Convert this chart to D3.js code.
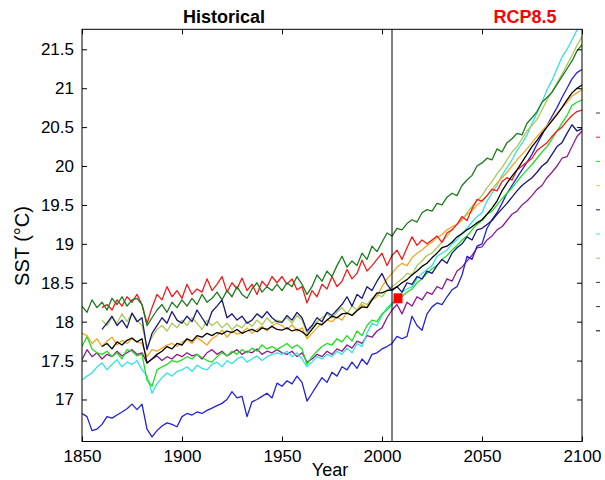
<!DOCTYPE html>
<html>
<head>
<meta charset="utf-8">
<script src="https://cdn.jsdelivr.net/npm/d3@7"></script>
<style>
  body { margin: 0; background: #fff; }
  svg { display: block; font-family: "Liberation Sans", Arial, sans-serif; }
</style>
</head>
<body>
<div id="chart"></div>
<script>
// sample years (every 2.5 yr)
const years = [
  1850, 1852.5, 1855, 1857.5, 1860, 1862.5, 1865, 1867.5, 1870, 1872.5,
  1875, 1877.5, 1880, 1882.5, 1885, 1887.5, 1890, 1892.5, 1895, 1897.5,
  1900, 1902.5, 1905, 1907.5, 1910, 1912.5, 1915, 1917.5, 1920, 1922.5,
  1925, 1927.5, 1930, 1932.5, 1935, 1937.5, 1940, 1942.5, 1945, 1947.5,
  1950, 1952.5, 1955, 1957.5, 1960, 1962.5, 1965, 1967.5, 1970, 1972.5,
  1975, 1977.5, 1980, 1982.5, 1985, 1987.5, 1990, 1992.5, 1995, 1997.5,
  2000, 2002.5, 2005, 2007.5, 2010, 2012.5, 2015, 2017.5, 2020, 2022.5,
  2025, 2027.5, 2030, 2032.5, 2035, 2037.5, 2040, 2042.5, 2045, 2047.5,
  2050, 2052.5, 2055, 2057.5, 2060, 2062.5, 2065, 2067.5, 2070, 2072.5,
  2075, 2077.5, 2080, 2082.5, 2085, 2087.5, 2090, 2092.5, 2095, 2097.5,
  2100
];

const darkGreen = [
  18.20, 18.12, 18.28, 18.18, 18.25, 18.15, 18.30, 18.22, 18.32, 18.20,
  18.28, 18.30, 18.22, 17.95, 18.05, 18.15, 18.22, 18.12, 18.25, 18.18,
  18.28, 18.20, 18.30, 18.22, 18.35, 18.25, 18.30, 18.38, 18.28, 18.40,
  18.32, 18.45, 18.35, 18.30, 18.42, 18.50, 18.38, 18.45, 18.40, 18.48,
  18.40, 18.50, 18.45, 18.58, 18.48, 18.35, 18.45, 18.60, 18.52, 18.65,
  18.58, 18.72, 18.84, 18.70, 18.78, 18.72, 18.88, 18.80, 18.97, 18.90,
  19.02, 19.14, 19.10, 19.20, 19.18, 19.26, 19.31, 19.28, 19.40, 19.44,
  19.42, 19.52, 19.50, 19.60, 19.65, 19.62, 19.75, 19.82, 19.88, 20.00,
  20.04, 20.10, 20.08, 20.22, 20.18, 20.30, 20.35, 20.42, 20.40, 20.55,
  20.62, 20.70, 20.82, 20.88, 20.95, 21.05, 21.15, 21.25, 21.35, 21.48,
  21.56
];

const red = [
  null, null, null, null, 18.18, 18.22, 18.15, 18.28, 18.20, 18.32,
  18.25, 18.35, 18.22, 17.98, 18.18, 18.35, 18.28, 18.45, 18.32, 18.40,
  18.30, 18.48, 18.35, 18.42, 18.38, 18.55, 18.40, 18.48, 18.58, 18.38,
  18.50, 18.42, 18.56, 18.40, 18.48, 18.35, 18.52, 18.45, 18.58, 18.50,
  18.58, 18.48, 18.55, 18.41, 18.45, 18.24, 18.40, 18.32, 18.48, 18.42,
  18.58, 18.45, 18.52, 18.67, 18.55, 18.62, 18.79, 18.65, 18.72, 18.80,
  18.88, 18.72, 18.85, 18.92, 18.80, 18.95, 19.09, 18.98, 19.05, 19.00,
  19.05, 19.10, 19.02, 19.14, 19.18, 19.25, 19.35, 19.30, 19.45, 19.57,
  19.55, 19.62, 19.70, 19.68, 19.80, 19.85, 19.82, 19.95, 20.00, 20.05,
  20.10, 20.20, 20.25, 20.30, 20.38, 20.45, 20.50, 20.58, 20.65, 20.70,
  20.72
];

const black = [
  null, null, null, null, 17.68, 17.72, 17.65, 17.74, 17.70, 17.76,
  17.79, 17.74, 17.78, 17.47, 17.52, 17.58, 17.62, 17.68, 17.65, 17.72,
  17.70, 17.78, 17.75, 17.82, 17.80, 17.85, 17.82, 17.86, 17.84, 17.88,
  17.86, 17.90, 17.85, 17.88, 17.90, 17.87, 17.92, 17.90, 17.94, 17.90,
  17.89, 17.92, 17.88, 17.90, 17.87, 17.82, 17.90, 17.98, 17.96, 18.02,
  18.07, 18.05, 18.10, 18.11, 18.08, 18.14, 18.19, 18.18, 18.28, 18.37,
  18.37, 18.40, 18.41, 18.45, 18.50, 18.54, 18.60, 18.65, 18.71, 18.75,
  18.82, 18.88, 18.95, 18.97, 19.02, 19.09, 19.13, 19.18, 19.22, 19.27,
  19.31, 19.38, 19.46, 19.55, 19.68, 19.78, 19.87, 19.95, 20.05, 20.15,
  20.25, 20.33, 20.42, 20.50, 20.58, 20.66, 20.75, 20.85, 20.94, 21.00,
  21.04
];

const navy = [
  null, null, null, null, 17.90, 17.98, 18.07, 17.95, 18.02, 17.92,
  18.11, 18.00, 18.05, 17.64, 17.85, 17.95, 18.05, 17.98, 18.13, 18.02,
  17.98, 18.07, 18.00, 18.15, 18.05, 17.95, 18.13, 18.20, 18.28, 18.05,
  18.10, 18.02, 18.07, 17.98, 18.02, 18.10, 18.05, 18.13, 18.05, 18.00,
  17.99, 18.08, 18.02, 18.12, 18.05, 17.88, 17.95, 18.05, 18.00, 18.12,
  18.08, 18.15, 18.22, 18.32, 18.20, 18.35, 18.30, 18.45, 18.40, 18.52,
  18.62, 18.48, 18.40, 18.45, 18.38, 18.50, 18.48, 18.58, 18.55, 18.65,
  18.62, 18.72, 18.80, 18.75, 18.88, 18.95, 19.00, 19.09, 19.05, 19.18,
  19.20, 19.25, 19.30, 19.38, 19.45, 19.52, 19.60, 19.68, 19.75, 19.80,
  19.85, 19.92, 20.00, 20.05, 20.15, 20.25, 20.30, 20.42, 20.53, 20.45,
  20.48
];

const yellowGreen = [
  null, null, null, null, 18.02, 17.95, 18.05, 17.98, 18.10, 18.00,
  18.11, 18.02, 17.95, 17.68, 17.80, 17.90, 17.95, 17.88, 17.98, 17.92,
  18.02, 17.95, 18.05, 17.98, 17.90, 18.02, 17.95, 18.00, 17.92, 17.98,
  17.90, 17.96, 17.92, 18.00, 17.94, 18.02, 17.96, 18.05, 17.98, 18.02,
  18.00, 18.05, 17.98, 18.08, 18.02, 17.85, 17.92, 18.00, 18.05, 18.10,
  18.05, 18.12, 18.18, 18.10, 18.20, 18.15, 18.25, 18.22, 18.30, 18.35,
  18.32, 18.40, 18.45, 18.50, 18.55, 18.62, 18.60, 18.72, 18.78, 18.85,
  18.88, 18.95, 19.02, 19.10, 19.18, 19.25, 19.30, 19.40, 19.48, 19.55,
  19.62, 19.72, 19.80, 19.90, 19.98, 20.08, 20.18, 20.25, 20.35, 20.45,
  20.52, 20.60, 20.72, 20.85, 20.95, 21.07, 21.18, 21.30, 21.42, 21.55,
  21.66
];

const orange = [
  17.85, 17.82, 17.72, 17.78, 17.68, 17.75, 17.80, 17.70, 17.76, 17.72,
  17.78, 17.74, 17.72, 17.55, 17.64, 17.62, 17.66, 17.70, 17.72, 17.68,
  17.74, 17.77, 17.72, 17.80, 17.75, 17.70, 17.78, 17.82, 17.89, 17.80,
  17.88, 17.84, 17.86, 17.92, 17.85, 17.90, 17.94, 17.88, 17.95, 17.98,
  17.95, 17.90, 17.96, 17.88, 17.92, 17.78, 17.85, 17.92, 17.98, 18.02,
  18.00, 18.06, 18.02, 18.12, 18.08, 18.15, 18.22, 18.18, 18.28, 18.32,
  18.45, 18.55, 18.62, 18.70, 18.75, 18.72, 18.82, 18.88, 18.92, 18.98,
  19.02, 19.08, 19.12, 19.18, 19.22, 19.25, 19.32, 19.38, 19.42, 19.50,
  19.55, 19.62, 19.70, 19.78, 19.85, 19.92, 20.00, 20.08, 20.15, 20.22,
  20.30, 20.38, 20.45, 20.52, 20.60, 20.68, 20.75, 20.82, 20.90, 20.94,
  20.98
];

const green = [
  17.68, 17.81, 17.65, 17.60, 17.58, 17.62, 17.55, 17.60, 17.52, 17.64,
  17.62, 17.56, 17.58, 17.25, 17.17, 17.38, 17.42, 17.45, 17.50, 17.48,
  17.51, 17.55, 17.52, 17.58, 17.54, 17.50, 17.48, 17.55, 17.60, 17.56,
  17.62, 17.58, 17.64, 17.60, 17.66, 17.62, 17.70, 17.65, 17.68, 17.64,
  17.68, 17.72, 17.66, 17.70, 17.65, 17.45, 17.55, 17.62, 17.68, 17.72,
  17.70, 17.78, 17.74, 17.82, 17.75, 17.88, 17.82, 17.95, 18.02, 18.00,
  18.10, 18.15, 18.22, 18.28, 18.32, 18.38, 18.42, 18.50, 18.55, 18.62,
  18.68, 18.72, 18.80, 18.85, 18.92, 18.98, 19.05, 19.10, 19.18, 19.25,
  19.30, 19.38, 19.42, 19.50, 19.58, 19.65, 19.72, 19.80, 19.88, 19.95,
  20.02, 20.10, 20.18, 20.25, 20.35, 20.45, 20.55, 20.65, 20.78, 20.82,
  20.85
];

const purple = [
  17.51, 17.64, 17.55, 17.60, 17.52, 17.58, 17.55, 17.62, 17.56, 17.60,
  17.64, 17.58, 17.60, 17.47, 17.52, 17.56, 17.50, 17.55, 17.52, 17.58,
  17.55, 17.60, 17.56, 17.58, 17.52, 17.60, 17.64, 17.58, 17.62, 17.56,
  17.60, 17.64, 17.58, 17.62, 17.60, 17.65, 17.58, 17.62, 17.60, 17.64,
  17.60, 17.58, 17.62, 17.55, 17.60, 17.48, 17.52, 17.58, 17.55, 17.62,
  17.58, 17.65, 17.62, 17.70, 17.66, 17.75, 17.72, 17.82, 17.80, 17.88,
  17.92, 18.05, 18.15, 18.22, 18.10, 18.25, 18.20, 18.32, 18.28, 18.38,
  18.35, 18.45, 18.42, 18.55, 18.52, 18.65, 18.70, 18.78, 18.85, 18.95,
  18.96, 19.05, 19.10, 19.18, 19.22, 19.30, 19.38, 19.42, 19.50, 19.55,
  19.62, 19.70, 19.75, 19.85, 19.92, 20.00, 20.10, 20.12, 20.25, 20.38,
  20.45
];

const cyan = [
  17.25, 17.30, 17.34, 17.42, 17.47, 17.38, 17.45, 17.51, 17.42, 17.48,
  17.45, 17.50, 17.38, 17.30, 17.08, 17.20, 17.28, 17.34, 17.30, 17.36,
  17.38, 17.42, 17.36, 17.44, 17.40, 17.38, 17.45, 17.48, 17.42, 17.50,
  17.46, 17.52, 17.55, 17.48, 17.52, 17.56, 17.50, 17.55, 17.58, 17.60,
  17.58, 17.62, 17.55, 17.60, 17.52, 17.42, 17.48, 17.55, 17.52, 17.58,
  17.55, 17.62, 17.58, 17.66, 17.60, 17.72, 17.68, 17.85, 17.98, 17.95,
  18.08, 18.18, 18.24, 18.30, 18.38, 18.42, 18.45, 18.55, 18.62, 18.67,
  18.72, 18.84, 18.88, 18.92, 19.00, 19.05, 19.14, 19.20, 19.28, 19.35,
  19.40, 19.55, 19.65, 19.75, 19.88, 19.98, 20.08, 20.20, 20.29, 20.40,
  20.55, 20.68, 20.82, 20.98, 21.10, 21.25, 21.40, 21.50, 21.62, 21.75,
  21.85
];

const blue = [
  16.82, 16.78, 16.60, 16.62, 16.68, 16.78, 16.76, 16.80, 16.84, 16.88,
  16.94, 16.87, 16.94, 16.62, 16.52, 16.60, 16.66, 16.70, 16.68, 16.65,
  16.78, 16.82, 16.80, 16.84, 16.82, 16.86, 16.89, 16.92, 16.95, 17.00,
  17.10, 17.02, 17.04, 16.78, 16.97, 17.00, 17.04, 17.08, 17.02, 17.21,
  17.17, 17.24, 17.20, 17.30, 17.22, 16.98, 17.08, 17.18, 17.28, 17.22,
  17.35, 17.30, 17.42, 17.38, 17.48, 17.40, 17.52, 17.45, 17.58, 17.60,
  17.65, 17.68, 17.72, 17.81, 17.78, 17.81, 18.07, 17.95, 17.89, 18.10,
  18.19, 18.24, 18.22, 18.32, 18.41, 18.45, 18.60, 18.84, 18.80, 18.97,
  19.00, 19.20, 19.31, 19.40, 19.52, 19.65, 19.75, 19.85, 19.95, 20.05,
  20.15, 20.28, 20.40, 20.52, 20.64, 20.75, 20.88, 21.00, 21.12, 21.20,
  21.24
];

const seriesList = [
  { values: purple, color: '#8e1c8e' },
  { values: blue, color: '#2222d6' },
  { values: cyan, color: '#33e3e3' },
  { values: green, color: '#22dd22' },
  { values: orange, color: '#f5a623' },
  { values: yellowGreen, color: '#a9c95a' },
  { values: navy, color: '#17177a' },
  { values: red, color: '#ee1c1c' },
  { values: darkGreen, color: '#1b7a1b' },
  { values: black, color: '#000000' }
];

// legend stubs peeking in at the right edge
const legendColors = ['#30306a', '#ee1c1c', '#22dd22', '#d8d060', '#17177a',
                      '#33e3e3', '#c8b070', '#4a2a6a', '#2a3a2a', '#000000'];

const xTicks = [1850, 1900, 1950, 2000, 2050, 2100];
const yTicks = [17, 17.5, 18, 18.5, 19, 19.5, 20, 20.5, 21, 21.5];
const splitYear = 2005;
const marker = { year: 2008, value: 18.3 };

const width = 605, height = 480;
const margin = { top: 29.3, right: 23, bottom: 38.5, left: 82 };

const svg = d3.select('#chart').append('svg')
  .attr('width', width)
  .attr('height', height);

const x = d3.scaleLinear().domain([1850, 2100]).range([margin.left, width - margin.right]);
const y = d3.scaleLinear().domain([16.46, 21.757]).range([height - margin.bottom, margin.top]);

svg.append('clipPath').attr('id', 'plot-clip')
  .append('rect')
  .attr('x', margin.left).attr('y', margin.top)
  .attr('width', width - margin.left - margin.right)
  .attr('height', height - margin.top - margin.bottom);

const line = d3.line()
  .defined(d => d != null)
  .x((d, i) => x(years[i]))
  .y(d => y(d));

svg.append('g')
  .attr('clip-path', 'url(#plot-clip)')
  .selectAll('path')
  .data(seriesList)
  .join('path')
  .attr('fill', 'none')
  .attr('stroke', d => d.color)
  .attr('stroke-width', 1.3)
  .attr('stroke-linejoin', 'round')
  .attr('d', d => line(d.values));

// divider historical / rcp
svg.append('line')
  .attr('x1', x(splitYear)).attr('x2', x(splitYear))
  .attr('y1', y.range()[1]).attr('y2', y.range()[0])
  .attr('stroke', '#000').attr('stroke-width', 1);

svg.append('rect')
  .attr('x', x(marker.year) - 4.5)
  .attr('y', y(marker.value) - 5)
  .attr('width', 9).attr('height', 10)
  .attr('fill', '#ff0000');

// axes, ticks pointing inward on all sides
const fmt = d => String(d);
const styleAxis = g => {
  g.select('.domain').remove();
  g.selectAll('.tick line').attr('stroke', '#000');
  g.selectAll('.tick text').attr('fill', '#000').attr('font-size', '17px');
};

svg.append('g')
  .attr('transform', `translate(0,${y.range()[0]})`)
  .call(d3.axisBottom(x).tickValues(xTicks).tickFormat(fmt).tickSize(-5).tickPadding(8))
  .call(styleAxis);

svg.append('g')
  .attr('transform', `translate(0,${y.range()[1]})`)
  .call(d3.axisTop(x).tickValues(xTicks).tickFormat('').tickSize(-5))
  .call(styleAxis);

svg.append('g')
  .attr('transform', `translate(${x.range()[0]},0)`)
  .call(d3.axisLeft(y).tickValues(yTicks).tickFormat(fmt).tickSize(-5).tickPadding(8))
  .call(styleAxis);

svg.append('g')
  .attr('transform', `translate(${x.range()[1]},0)`)
  .call(d3.axisRight(y).tickValues(yTicks).tickFormat('').tickSize(-5))
  .call(styleAxis);

svg.append('rect')
  .attr('x', x.range()[0]).attr('y', y.range()[1])
  .attr('width', x.range()[1] - x.range()[0])
  .attr('height', y.range()[0] - y.range()[1])
  .attr('fill', 'none').attr('stroke', '#000').attr('stroke-width', 1);

// titles
svg.append('text')
  .attr('x', 224).attr('y', 23)
  .attr('text-anchor', 'middle')
  .attr('font-size', '18px').attr('font-weight', 'bold')
  .text('Historical');

svg.append('text')
  .attr('x', 525).attr('y', 23)
  .attr('text-anchor', 'middle')
  .attr('font-size', '18px').attr('font-weight', 'bold')
  .attr('fill', '#ff0000')
  .text('RCP8.5');

svg.append('text')
  .attr('x', 330).attr('y', 476)
  .attr('text-anchor', 'middle')
  .attr('font-size', '18px')
  .text('Year');

svg.append('text')
  .attr('transform', `translate(29,246) rotate(-90)`)
  .attr('text-anchor', 'middle')
  .attr('font-size', '20px')
  .text('SST (°C)');

svg.append('g')
  .selectAll('line')
  .data(legendColors)
  .join('line')
  .attr('x1', 596).attr('x2', 600)
  .attr('y1', (d, i) => 113 + i * 24.2)
  .attr('y2', (d, i) => 113 + i * 24.2)
  .attr('stroke', d => d)
  .attr('stroke-width', 1);
</script>
</body>
</html>
